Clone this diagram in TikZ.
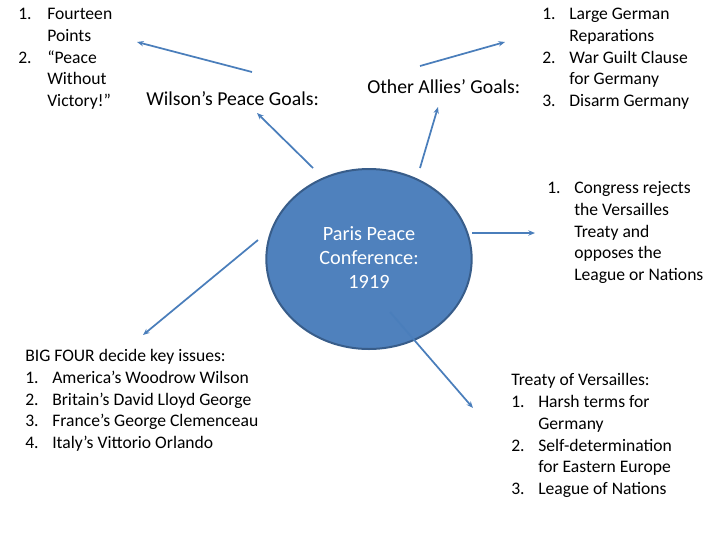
\documentclass[tikz,border=0pt]{standalone}
\usepackage{fontspec}
\setmainfont{Carlito}
\usetikzlibrary{shapes.geometric,arrows.meta}
\definecolor{blu}{HTML}{4F81BD}
\definecolor{bluD}{HTML}{385D8A}
\definecolor{arr}{HTML}{4A7EBB}
\begin{document}
\begin{tikzpicture}[x=0.75pt,y=-0.75pt,
  t/.style={anchor=base west,inner sep=0pt,font=\fontsize{13.2}{15}\selectfont},
  big/.style={anchor=base west,inner sep=0pt,font=\fontsize{14.8}{17}\selectfont},
  con/.style={draw=arr,line width=1.3pt,-{Stealth[length=5pt,width=4pt]}}]
\useasboundingbox (0,0) rectangle (720,540);
\node[ellipse,fill=blu,draw=bluD,line width=1.5pt,minimum width=154pt,minimum height=135pt,inner sep=0pt] (c) at (369,259) {};
\node[align=center,text=white,font=\fontsize{15.2}{18}\selectfont] (ct) at (369,258) {Paris Peace\\Conference:\\1919};
% top-left list
\node[t] (a1) at (18,19) {1.}; \node[t] (a1a) at (47,19) {Fourteen};
\node[t] (a1b) at (47,41) {Points};
\node[t] (a2) at (18,63) {2.}; \node[t] (a2a) at (47,63) {“Peace};
\node[t] (a2b) at (47,84) {Without};
\node[t] (a2c) at (47,106) {Victory!”};
\node[big] (w) at (146,105) {Wilson’s Peace Goals:};
\node[big] (o) at (367,93) {Other Allies’ Goals:};
% top-right list
\node[t] (b1) at (542,19) {1.}; \node[t] (b1a) at (569,19) {Large German};
\node[t] (b1b) at (569,41) {Reparations};
\node[t] (b2) at (542,63) {2.}; \node[t] (b2a) at (569,63) {War Guilt Clause};
\node[t] (b2b) at (569,84) {for Germany};
\node[t] (b3) at (542,106) {3.}; \node[t] (b3a) at (569,106) {Disarm Germany};
% congress
\node[t] (k1) at (547,193) {1.}; \node[t] (k1a) at (574,193) {Congress rejects};
\node[t] (k1b) at (574,215) {the Versailles};
\node[t] (k1c) at (574,237) {Treaty and};
\node[t] (k1d) at (574,258) {opposes the};
\node[t] (k1e) at (574,280) {League or Nations};
% big four
\node[t] (g0) at (25,361) {BIG FOUR decide key issues:};
\node[t] (g1) at (25,383) {1.}; \node[t] (g1a) at (52,383) {America’s Woodrow Wilson};
\node[t] (g2) at (25,405) {2.}; \node[t] (g2a) at (52,405) {Britain’s David Lloyd George};
\node[t] (g3) at (25,426) {3.}; \node[t] (g3a) at (52,426) {France’s George Clemenceau};
\node[t] (g4) at (25,448) {4.}; \node[t] (g4a) at (52,448) {Italy’s Vit{}torio Orlando};
% treaty
\node[t] (v0) at (511,385) {Treaty of Versailles:};
\node[t] (v1) at (511,407) {1.}; \node[t] (v1a) at (538,407) {Harsh terms for};
\node[t] (v1b) at (538,429) {Germany};
\node[t] (v2) at (511,451) {2.}; \node[t] (v2a) at (538,451) {Self-determination};
\node[t] (v2b) at (538,472) {for Eastern Europe};
\node[t] (v3) at (511,494) {3.}; \node[t] (v3a) at (538,494) {League of Nations};
% connector endpoints
\coordinate (p1s) at (252,72); \coordinate (p1e) at (137,42);
\coordinate (p2s) at (420,66); \coordinate (p2e) at (505,42);
\coordinate (p3s) at (313,168); \coordinate (p3e) at (257,113);
\coordinate (p4s) at (420,168); \coordinate (p4e) at (438,107);
\coordinate (p5s) at (472,233); \coordinate (p5e) at (535,233);
\coordinate (p6s) at (258,240); \coordinate (p6e) at (143,335);
\coordinate (p7s) at (390,312); \coordinate (p7e) at (473,408);
\draw[con] (p1s) -- (p1e);
\draw[con] (p2s) -- (p2e);
\draw[con] (p3s) -- (p3e);
\draw[con] (p4s) -- (p4e);
\draw[con] (p5s) -- (p5e);
\draw[con] (p6s) -- (p6e);
\draw[con] (p7s) -- (p7e);
\end{tikzpicture}
\end{document}
